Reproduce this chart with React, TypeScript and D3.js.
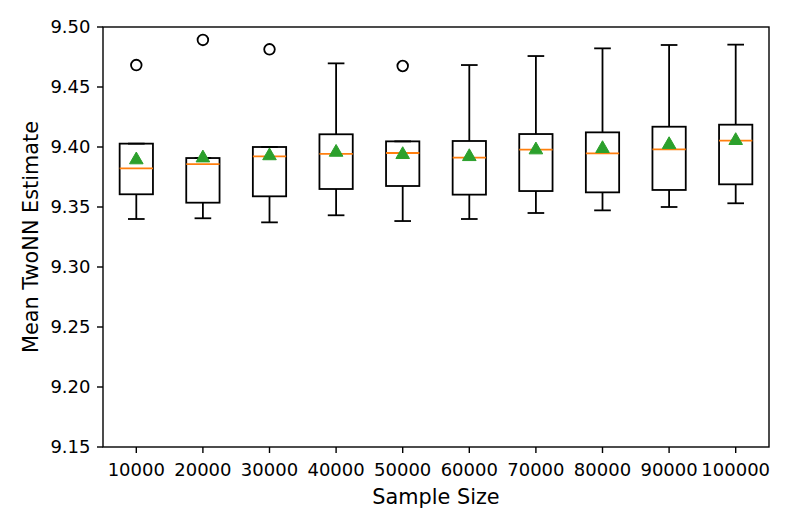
import React from "react";
import * as d3 from "d3";

const categories = ["10000", "20000", "30000", "40000", "50000", "60000", "70000", "80000", "90000", "100000"];
const whiskerLow = [9.340, 9.3406, 9.3372, 9.3431, 9.3383, 9.340, 9.345, 9.3472, 9.350, 9.3531];
const q1 = [9.3606, 9.3536, 9.3589, 9.365, 9.3675, 9.3603, 9.3633, 9.3622, 9.3642, 9.3689];
const medians = [9.3822, 9.3858, 9.3922, 9.3942, 9.395, 9.3911, 9.3978, 9.3947, 9.3981, 9.4053];
const q3 = [9.4028, 9.3908, 9.400, 9.4106, 9.4047, 9.405, 9.4108, 9.4122, 9.4169, 9.4186];
const whiskerHigh = [9.4028, 9.3908, 9.400, 9.4697, 9.4047, 9.4683, 9.4758, 9.4822, 9.485, 9.4853];
const means = [9.3906, 9.3922, 9.394, 9.3969, 9.395, 9.3933, 9.3989, 9.400, 9.4033, 9.4067];
const outliers: number[][] = [[9.4683], [9.4892], [9.4814], [], [9.4675], [], [], [], [], []];
const yTicks = [9.15, 9.2, 9.25, 9.3, 9.35, 9.4, 9.45, 9.5];

const W = 793, H = 529;
const L = 103, R = 769, T = 27, B = 447;
const FONT = "DejaVu Sans, sans-serif";

export default function App() {
  const x = d3.scaleLinear().domain([0.5, categories.length + 0.5]).range([L, R]);
  const y = d3.scaleLinear().domain([9.15, 9.5]).range([B, T]);
  const boxW = x(1.5) - x(1);
  const capW = boxW / 2;
  const tri = d3.symbol().type(d3.symbolTriangle).size(80)();
  const fmt = d3.format(".2f");
  const lw = 1.8;

  return (
    <svg width={W} height={H} style={{ position: "absolute", left: 0, top: 0, background: "#fff" }}>
      <rect x={0} y={0} width={W} height={H} fill="#fff" />
      {categories.map((c, i) => {
        const cx = x(i + 1);
        return (
          <g key={c}>
            <line x1={cx} x2={cx} y1={y(q1[i])} y2={y(whiskerLow[i])} stroke="#000" strokeWidth={lw} />
            <line x1={cx} x2={cx} y1={y(q3[i])} y2={y(whiskerHigh[i])} stroke="#000" strokeWidth={lw} />
            <line x1={cx - capW / 2} x2={cx + capW / 2} y1={y(whiskerLow[i])} y2={y(whiskerLow[i])} stroke="#000" strokeWidth={lw} />
            <line x1={cx - capW / 2} x2={cx + capW / 2} y1={y(whiskerHigh[i])} y2={y(whiskerHigh[i])} stroke="#000" strokeWidth={lw} />
            <rect x={cx - boxW / 2} y={y(q3[i])} width={boxW} height={y(q1[i]) - y(q3[i])} fill="none" stroke="#000" strokeWidth={lw} />
            <line x1={cx - boxW / 2} x2={cx + boxW / 2} y1={y(medians[i])} y2={y(medians[i])} stroke="#ff7f0e" strokeWidth={lw} />
            <path d={tri || ""} transform={`translate(${cx},${y(means[i]) + 1.6})`} fill="#2ca02c" stroke="#2ca02c" strokeWidth={1} />
            {outliers[i].map((o, j) => (
              <circle key={j} cx={cx} cy={y(o)} r={5.3} fill="none" stroke="#000" strokeWidth={lw} />
            ))}
          </g>
        );
      })}
      <rect x={L} y={T} width={R - L} height={B - T} fill="none" stroke="#000" strokeWidth={1.4} />
      {yTicks.map((t) => (
        <g key={t}>
          <line x1={L - 6} x2={L} y1={y(t)} y2={y(t)} stroke="#000" strokeWidth={1.4} />
          <text x={L - 12.5} y={y(t)} dy="0.36em" textAnchor="end" fontFamily={FONT} fontSize={18} fill="#000">{fmt(t)}</text>
        </g>
      ))}
      {categories.map((c, i) => (
        <g key={"xt" + c}>
          <line x1={x(i + 1)} x2={x(i + 1)} y1={B} y2={B + 6} stroke="#000" strokeWidth={1.4} />
          <text x={x(i + 1)} y={475.5} textAnchor="middle" fontFamily={FONT} fontSize={18} fill="#000">{c}</text>
        </g>
      ))}
      <text x={(L + R) / 2} y={504.3} textAnchor="middle" fontFamily={FONT} fontSize={20.8} fill="#000">Sample Size</text>
      <text transform={`translate(37.5,${(T + B) / 2}) rotate(-90)`} textAnchor="middle" fontFamily={FONT} fontSize={20.8} fill="#000">Mean TwoNN Estimate</text>
    </svg>
  );
}
